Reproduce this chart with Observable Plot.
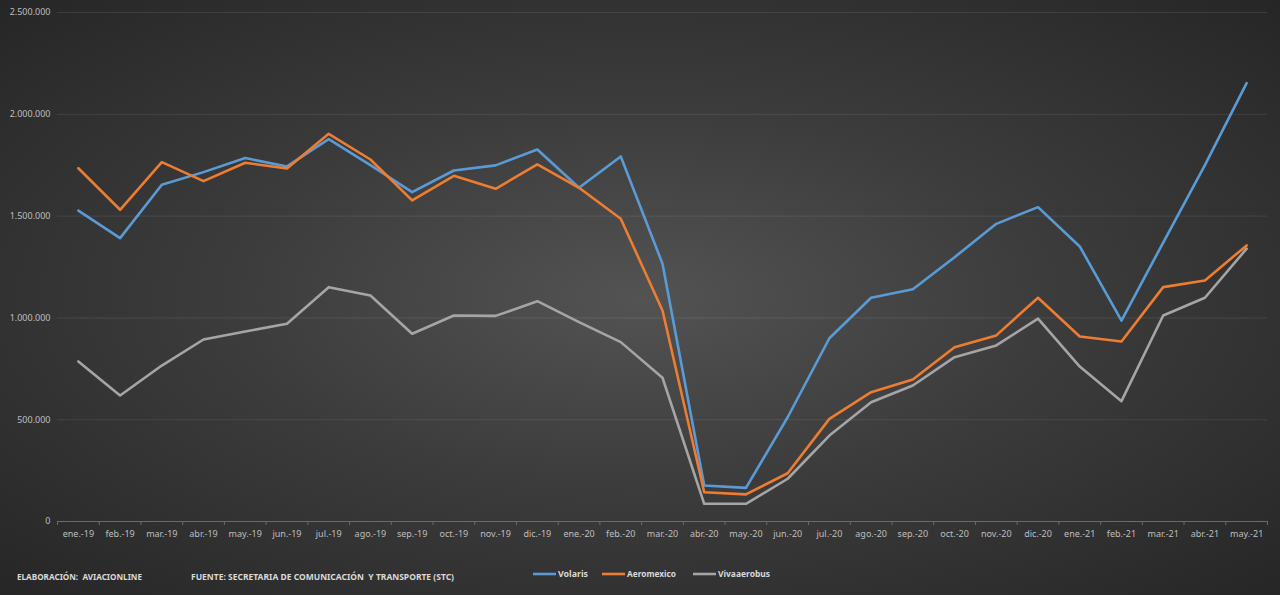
<!DOCTYPE html>
<html>
<head>
<meta charset="utf-8">
<script src="https://cdn.jsdelivr.net/npm/d3@7"></script>
<script src="https://cdn.jsdelivr.net/npm/@observablehq/plot@0.6"></script>
<style>
  html, body { margin: 0; padding: 0; }
  body {
    width: 1280px; height: 595px; overflow: hidden; position: relative;
    background: radial-gradient(ellipse at 50% 50%, #535353 0%, #3c3c3c 45%, #262626 100%);
    font-family: "Noto Sans", sans-serif;
  }
  #chart { position: absolute; left: 0; top: 0; }
  #footer { position: absolute; left: 0; top: 555px; }
</style>
</head>
<body>
<div id="chart"></div>
<svg id="footer" width="1280" height="40"></svg>
<script>
const months = ["ene.-19","feb.-19","mar.-19","abr.-19","may.-19","jun.-19","jul.-19","ago.-19","sep.-19","oct.-19","nov.-19","dic.-19",
  "ene.-20","feb.-20","mar.-20","abr.-20","may.-20","jun.-20","jul.-20","ago.-20","sep.-20","oct.-20","nov.-20","dic.-20",
  "ene.-21","feb.-21","mar.-21","abr.-21","may.-21"];
const volaris = [1527000,1392000,1654000,1716000,1785000,1744000,1878000,1750000,1618000,1724000,1749000,1827000,
  1639000,1793000,1266000,177000,165000,512000,900000,1099000,1141000,1298000,1462000,1544000,
  1351000,987000,1370000,1750000,2153000];
const aeromexico = [1735000,1531000,1765000,1672000,1762000,1734000,1904000,1778000,1577000,1698000,1634000,1754000,
  1639000,1487000,1036000,144000,133000,237000,504000,635000,697000,856000,914000,1099000,
  909000,884000,1151000,1184000,1356000];
const vivaaerobus = [786000,619000,766000,894000,933000,971000,1151000,1110000,922000,1012000,1010000,1082000,
  979000,881000,706000,87000,87000,210000,422000,586000,668000,807000,865000,996000,
  761000,591000,1012000,1099000,1340000];
const series = ["Volaris","Aeromexico","Vivaaerobus"];
const seriesColors = ["#5b9bd5","#ed7d31","#a5a5a5"];
const yTicks = [0,500000,1000000,1500000,2000000,2500000];
const footerLeft = "ELABORACIÓN:  AVIACIONLINE";
const footerSource = "FUENTE: SECRETARIA DE COMUNICACIÓN  Y TRANSPORTE (STC)";

const values = [volaris, aeromexico, vivaaerobus];
const data = series.flatMap((s, k) => values[k].map((v, i) => ({series: s, i, v})));
const fmt = d => d3.format(",")(d).replace(/,/g, ".");

const chart = Plot.plot({
  width: 1280,
  height: 555,
  marginTop: 12,
  marginBottom: 34,
  marginLeft: 57,
  marginRight: 13,
  style: {background: "transparent", color: "#bfbfbf", fontSize: "9px", fontFamily: "'Noto Sans', sans-serif"},
  x: {type: "linear", domain: [-0.5, months.length - 0.5], axis: null},
  y: {domain: [0, 2500000], axis: null},
  color: {domain: series, range: seriesColors},
  marks: [
    Plot.gridY(yTicks.filter(d => d > 0), {stroke: "#ffffff", strokeOpacity: 0.09, strokeWidth: 1}),
    Plot.ruleY([0], {stroke: "#6a6a6a", strokeWidth: 1}),
    Plot.axisX(d3.range(-0.5, months.length, 1), {tickSize: 4, tickFormat: () => "", stroke: "#6a6a6a", label: null}),
    Plot.axisX(d3.range(months.length), {tickSize: 0, tickPadding: 9, tickFormat: i => months[i], fill: "#bfbfbf", label: null}),
    Plot.axisY(yTicks, {tickSize: 0, tickPadding: 7, tickFormat: fmt, fill: "#bfbfbf", label: null}),
    Plot.lineY(data, {x: "i", y: "v", stroke: "series", strokeWidth: 2.6, strokeLinejoin: "round", strokeLinecap: "round"})
  ]
});
document.getElementById("chart").appendChild(chart);

// footer & legend
const f = d3.select("#footer");
const txt = (x, y, s, len) => f.append("text").attr("x", x).attr("y", y)
  .attr("fill", "#d9d9d9").attr("font-size", 9).attr("font-weight", "bold")
  .attr("font-family", "'Noto Sans', sans-serif").attr("textLength", len)
  .attr("lengthAdjust", "spacingAndGlyphs").style("white-space", "pre").text(s);
txt(17, 25, footerLeft, 125);
txt(191, 25, footerSource, 263);
const legendX = [533, 602, 693];
const legendLen = [30, 49, 52];
series.forEach((s, k) => {
  f.append("line").attr("x1", legendX[k]).attr("x2", legendX[k] + 23).attr("y1", 19).attr("y2", 19)
    .attr("stroke", seriesColors[k]).attr("stroke-width", 2.6);
  txt(legendX[k] + 25, 22, s, legendLen[k]);
});
</script>
</body>
</html>
